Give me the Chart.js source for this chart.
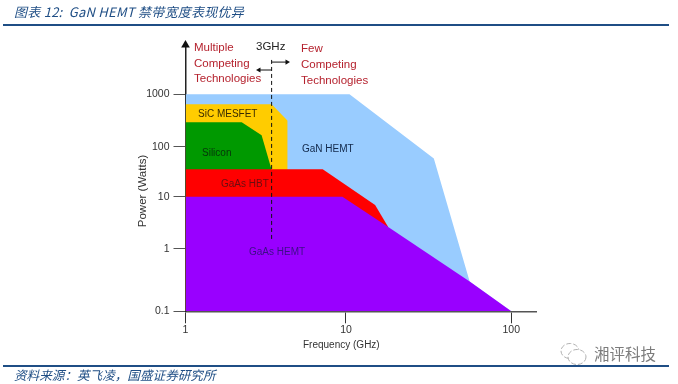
<!DOCTYPE html>
<html>
<head>
<meta charset="utf-8">
<style>
	html, body { margin: 0; padding: 0; background: #fff; }
	#page { position: relative; width: 678px; height: 384px; overflow: hidden; }
	#chart { position: absolute; left: 0; top: 0; }
	.rule { position: absolute; left: 3px; width: 666px; height: 2px; background: #1f4e85; }
	.cap { position: absolute; left: 14px; color: #1f4e85; font-style: italic; white-space: nowrap; font-family: "Noto Sans CJK SC", sans-serif; }
	#mark { position: absolute; left: 594px; top: 342px; color: #7c7c7c; font: 15.5px "Noto Sans CJK SC", sans-serif; white-space: nowrap; }
	#icon { position: absolute; left: 558px; top: 341px; }
</style>
</head>
<body>
<div id="page">
	<canvas id="chart" width="678" height="384"></canvas>
	<div class="cap" style="top:2px;font-size:13px;line-height:20px;letter-spacing:0.25px;">图表 12:&nbsp;&nbsp;GaN HEMT 禁带宽度表现优异</div>
	<div class="rule" style="top:24px;"></div>
	<div class="rule" style="top:365px;"></div>
	<div class="cap" style="top:366px;font-size:12.6px;line-height:18px;">资料来源&#65306;英飞凌&#65292;国盛证券研究所</div>
	<svg id="icon" width="34" height="26" fill="none" stroke="#b0b0b0" stroke-width="1" stroke-dasharray="5 2">
		<ellipse cx="12" cy="10" rx="9" ry="7.5"/>
		<ellipse cx="19" cy="16" rx="9" ry="7.5" fill="#fff"/>
	</svg>
	<div id="mark">湘评科技</div>
</div>

<script src="https://cdn.jsdelivr.net/npm/chart.js@4"></script>
<script>
const xTicks = [1, 10, 100];
const yTicks = [0.1, 1, 10, 100, 1000];

const ganFreq = [1, 10.5, 34, 56, 100];
const ganPower = [1000, 1000, 59, 0.3, 0.1];
const sicFreq = [1, 3.44, 4.33, 4.33];
const sicPower = [650, 650, 316, 35];
const siliconFreq = [1, 2.24, 2.98, 3.44];
const siliconPower = [294, 294, 167, 35];
const hbtFreq = [1, 7.16, 15, 18];
const hbtPower = [35.6, 35.6, 6.9, 2.6];
const hemtFreq = [1, 9.5, 18, 56, 100];
const hemtPower = [10, 10, 2.6, 0.3, 0.1];

const splitFreq = [3.44, 3.44];
const splitPower = [1.54, 4970];
const leftArrowFreq = [3.44, 2.87];
const leftArrowPower = [2840, 2840];
const rightArrowFreq = [3.44, 4.29];
const rightArrowPower = [3990, 3990];

const multipleLines = ['Multiple', 'Competing', 'Technologies'];
const fewLines = ['Few', 'Competing', 'Technologies'];

const xTitle = 'Frequency (GHz)';
const yTitle = 'Power (Watts)';

function points(xs, ys) {
	return xs.map(function (x, i) {
		return {x: x, y: ys[i]};
	});
}

// the source axes are log but the decades are not evenly spaced
class UnevenLogScale extends Chart.LogarithmicScale {
	static id = 'unevenLog';
	static defaults = {};

	getPixelForValue(value) {
		let stops = this.options.stops;
		let fracs = this.options.fracs;
		let v = Math.log10(value);
		let i = 0;
		while (i < stops.length - 2 && v > stops[i + 1]) {
			i++;
		}
		let t = (v - stops[i]) / (stops[i + 1] - stops[i]);
		return this.getPixelForDecimal(fracs[i] + t * (fracs[i + 1] - fracs[i]));
	}
}
Chart.register(UnevenLogScale);

function area(xs, ys, color) {
	return {
		data: points(xs, ys),
		borderWidth: 0,
		backgroundColor: color,
		fill: 'start',
		pointRadius: 0,
		showLine: true
	};
}

function arrow(xs, ys) {
	return {
		data: points(xs, ys),
		borderColor: '#111',
		borderWidth: 1,
		fill: false,
		showLine: true,
		pointStyle: 'triangle',
		pointRadius: [0, 3],
		pointRotation: xs[1] > xs[0] ? 90 : 270,
		pointBackgroundColor: '#111',
		pointBorderWidth: 0,
		clip: false
	};
}

const textLabels = {
	id: 'textLabels',
	afterDraw: function (chart) {
		let ctx = chart.ctx;

		function put(text, x, y, size, color) {
			ctx.font = size + 'px "Liberation Sans", Arial, sans-serif';
			ctx.fillStyle = color;
			ctx.textAlign = 'left';
			ctx.textBaseline = 'middle';
			ctx.fillText(text, x, y);
		}

		multipleLines.forEach(function (t, i) {
			put(t, 194, 48 + i * 15.5, 11.5, '#b5222e');
		});
		fewLines.forEach(function (t, i) {
			put(t, 301, 49 + i * 16, 11.5, '#b5222e');
		});
		put('3GHz', 256, 47, 11.5, '#222');
		put('SiC MESFET', 198, 114, 10, '#3a2c00');
		put('Silicon', 202, 153, 10, '#06350a');
		put('GaN HEMT', 302, 149, 10, '#12284a');
		put('GaAs HBT', 221, 184, 10, '#6b0d10');
		put('GaAs HEMT', 249, 252, 10, '#3c0e86');
		put(xTitle, 303, 345, 10, '#333');

		ctx.save();
		ctx.translate(143, 191);
		ctx.rotate(-Math.PI / 2);
		ctx.font = '11.5px "Liberation Sans", Arial, sans-serif';
		ctx.fillStyle = '#333';
		ctx.textAlign = 'center';
		ctx.textBaseline = 'middle';
		ctx.fillText(yTitle, 0, 0);
		ctx.restore();
	}
};

new Chart(document.getElementById('chart').getContext('2d'), {
	type: 'scatter',
	data: {
		// first dataset is painted last
		datasets: [
			{
				// arrow head on top of the power axis
				data: [{x: 1, y: 8300}],
				pointStyle: 'triangle',
				pointRadius: 5,
				pointBackgroundColor: '#111',
				pointBorderWidth: 0,
				clip: false
			},
			arrow(rightArrowFreq, rightArrowPower),
			arrow(leftArrowFreq, leftArrowPower),
			{
				data: points(splitFreq, splitPower),
				borderColor: '#111',
				borderWidth: 1,
				borderDash: [4, 3],
				fill: false,
				showLine: true,
				pointRadius: 0
			},
			area(hemtFreq, hemtPower, '#9900ff'),
			area(hbtFreq, hbtPower, '#ff0000'),
			area(siliconFreq, siliconPower, '#009900'),
			area(sicFreq, sicPower, '#ffcc00'),
			area(ganFreq, ganPower, '#99ccff')
		]
	},
	options: {
		responsive: false,
		animation: false,
		layout: {
			padding: {left: 125.5, right: 142, top: 45, bottom: 32.7}
		},
		plugins: {
			legend: {display: false},
			tooltip: {enabled: false},
			title: {display: false}
		},
		scales: {
			x: {
				type: 'unevenLog',
				min: 1,
				max: 141,
				stops: [0, 1, 2, 2.15],
				fracs: [0, 0.4579, 0.9295, 1],
				afterFit: function (scale) {
					scale.height = 40;
				},
				afterBuildTicks: function (scale) {
					scale.ticks = xTicks.map(function (v) {
						return {value: v};
					});
				},
				grid: {drawOnChartArea: false, tickLength: 12, tickColor: '#333', tickWidth: 1},
				border: {color: '#555', width: 1.5},
				ticks: {
					autoSkip: false,
					maxRotation: 0,
					padding: 1,
					color: '#333',
					font: {family: '"Liberation Sans", Arial, sans-serif', size: 10.5},
					callback: function (v) {
						return String(v);
					}
				}
			},
			y: {
				type: 'unevenLog',
				min: 0.1,
				max: 8318,
				stops: [-1, 0, 1, 2, 3, 3.92],
				fracs: [0, 0.2351, 0.4303, 0.617, 0.8149, 1],
				afterFit: function (scale) {
					scale.width = 60;
				},
				afterBuildTicks: function (scale) {
					scale.ticks = yTicks.map(function (v) {
						return {value: v};
					});
				},
				grid: {drawOnChartArea: false, tickLength: 12, tickColor: '#555', tickWidth: 1},
				border: {color: '#222', width: 1.5},
				ticks: {
					autoSkip: false,
					padding: 4,
					color: '#333',
					font: {family: '"Liberation Sans", Arial, sans-serif', size: 10.5},
					callback: function (v) {
						return String(v);
					}
				}
			}
		}
	},
	plugins: [textLabels]
});
</script>
</body>
</html>
